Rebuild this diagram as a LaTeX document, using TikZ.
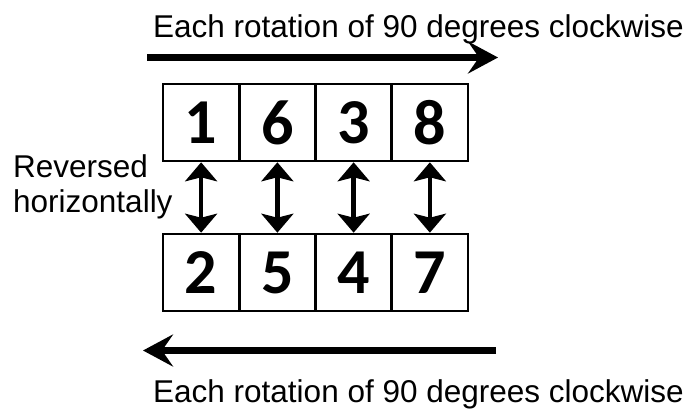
\documentclass[tikz,border=0pt]{standalone}
\usepackage{fontspec}
\setmainfont{Liberation Sans}
\newfontfamily\numfont{Carlito}
\usetikzlibrary{positioning,arrows.meta}

\begin{document}
\begin{tikzpicture}[x=1pt,y=-1pt,
  cell/.style={draw,line width=2.6pt,minimum width=76.25pt,minimum height=77pt,inner sep=0pt,font=\numfont\bfseries\fontsize{64}{64}\selectfont},
  swap/.style={line width=4.5pt,{Stealth[length=19pt,width=32pt,inset=4pt]}-{Stealth[length=19pt,width=32pt,inset=4pt]}},
  turn/.style={line width=7pt,-{Stealth[length=30pt,width=32pt,inset=11pt]}},
  lbl/.style={font=\fontsize{31.5}{35}\selectfont,inner sep=0pt}]
\useasboundingbox (0,0) rectangle (693,410);
% the two rows of cells
\foreach \n [count=\i] in {1,6,3,8}{\node[cell] (t\i) at (163+76.25*\i-38.125,122.5) {\n};}
\foreach \n [count=\i] in {2,5,4,7}{\node[cell] (b\i) at (163+76.25*\i-38.125,272.5) {\n};}
\foreach \i in {1,2,3,4}{\draw[swap] (t\i.south) -- (b\i.north);}
% rotation arrows
\coordinate (ta) at (147,57.5); \coordinate (tb) at (498,57.5);
\coordinate (ba) at (496,350.5); \coordinate (bb) at (143,350.5);
\draw[turn] (ta) -- (tb); \draw[turn] (ba) -- (bb);
\node[lbl,anchor=base west] (top) at (153,37) {Each rotation of 90 degrees clockwise};
\node[lbl,anchor=base west] (bot) at (153,402) {Each rotation of 90 degrees clockwise};
\node[lbl,anchor=north west,align=left] (rev) at (13,154) {Reversed\\horizontally};
\end{tikzpicture}
\end{document}
